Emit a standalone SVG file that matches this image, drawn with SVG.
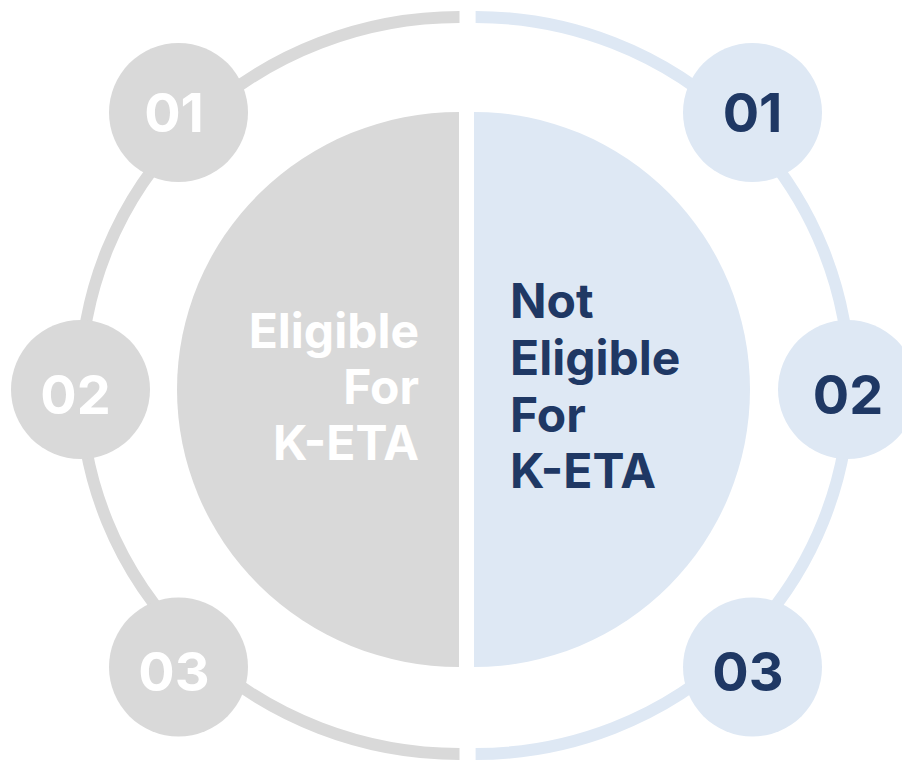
<svg xmlns="http://www.w3.org/2000/svg" width="902" height="764" viewBox="0 0 902 764">
<style>
.gray{fill:#D9D9D9}
.blue{fill:#DEE8F4}
.ring{fill:none;stroke-width:12}
.rg{stroke:#D9D9D9}
.rb{stroke:#DEE8F4}
.num{font-family:Inter,"Noto Sans","Liberation Sans",sans-serif;font-weight:700;font-size:54px;text-anchor:middle}
.lbl{font-family:Inter,"Noto Sans","Liberation Sans",sans-serif;font-weight:700;font-size:48px}
.w{fill:#FFFFFF}
.n{fill:#1F3864}
</style>
<rect width="902" height="764" fill="#FFFFFF"/>
<g id="connectors">
<path class="ring rg" d="M459.5,17 A379,368.5 0 0 0 459.5,754"/>
<path class="ring rb" d="M475.6,17 A374,368.5 0 0 1 475.6,754"/>
</g>
<g id="eligible">
<path class="gray" d="M459,112 A282,277.5 0 0 0 459,667 Z"/>
<text class="lbl w" text-anchor="end" x="419" y="348">Eligible</text>
<text class="lbl w" text-anchor="end" x="419" y="404">For</text>
<text class="lbl w" text-anchor="end" x="419" y="460">K-ETA</text>
</g>
<g id="not-eligible">
<path class="blue" d="M474,112 A276,277.5 0 0 1 474,667 Z"/>
<text class="lbl n" x="510" y="318">Not</text>
<text class="lbl n" x="510" y="375">Eligible</text>
<text class="lbl n" x="510" y="432">For</text>
<text class="lbl n" x="510" y="488">K-ETA</text>
</g>
<g id="left-01"><circle class="gray" cx="178.5" cy="112.5" r="69.5"/><text class="num w" x="174" y="132">01</text></g>
<g id="left-02"><circle class="gray" cx="80.5" cy="389.5" r="69.5"/><text class="num w" x="75.5" y="414">02</text></g>
<g id="left-03"><circle class="gray" cx="178.5" cy="667" r="69.5"/><text class="num w" x="174" y="691">03</text></g>
<g id="right-01"><circle class="blue" cx="752.5" cy="112.5" r="69.5"/><text class="num n" x="752.5" y="132">01</text></g>
<g id="right-02"><circle class="blue" cx="847.5" cy="389.5" r="69.5"/><text class="num n" x="848" y="414">02</text></g>
<g id="right-03"><circle class="blue" cx="752.5" cy="667" r="69.5"/><text class="num n" x="748" y="691">03</text></g>
</svg>
